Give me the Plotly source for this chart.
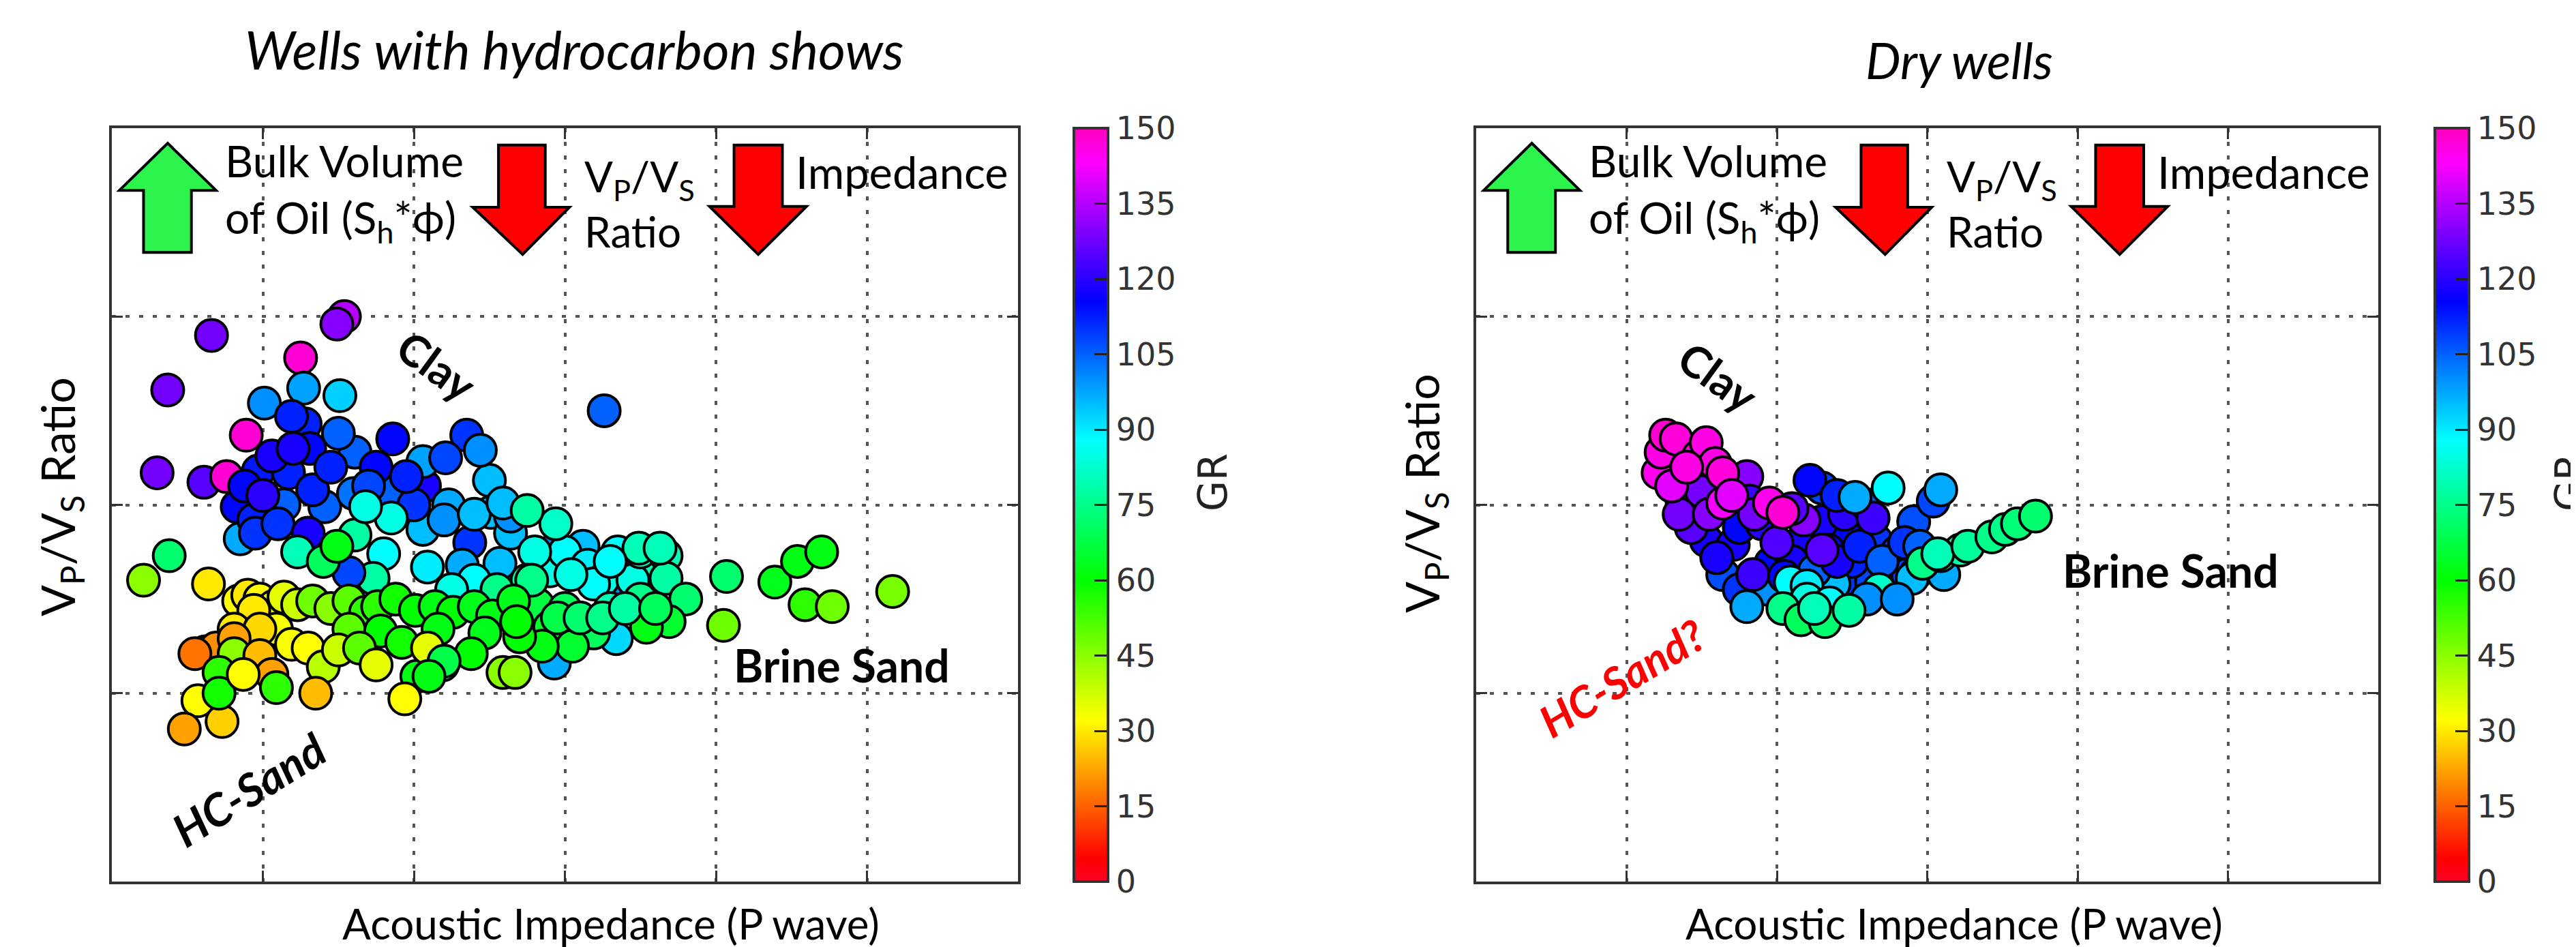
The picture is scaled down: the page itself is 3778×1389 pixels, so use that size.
import plotly.graph_objects as go

# ---------------- data ----------------
# Left panel: wells with hydrocarbon shows (x = acoustic impedance grid units, y = Vp/Vs grid units, GR)
hc_x = [0.66, 1.54, 1.49, 0.37, 1.25, 0.30, 0.61, 0.89, 0.76,
        1.01, 1.27, 1.51, 1.28, 2.35, 1.86, 1.61, 1.31, 0.97, 1.17, 1.14, 1.41, 1.60, 1.83,
        2.07, 2.06, 2.21, 2.50, 0.85, 0.83, 2.06, 2.37, 2.32, 2.57, 2.51, 2.64, 2.23,
        0.94, 1.06, 0.88, 1.50, 2.44, 1.75, 1.33, 1.19, 1.00, 1.20, 1.45, 1.70, 0.95,
        2.20, 2.40, 2.00, 1.95, 1.10, 1.30, 3.26, 2.64, 2.91, 3.12, 3.41, 2.59, 2.93, 3.34,
        2.40, 2.25, 2.90, 3.00, 3.15, 3.25, 3.35, 3.55, 3.45,
        1.23, 1.61, 1.85, 2.09, 1.68, 1.80, 1.73, 1.57, 2.94, 2.75, 3.50, 3.67, 3.19, 3.04,
        3.67, 3.49, 3.63, 2.80, 3.30, 2.75, 2.55,
        1.40, 1.49, 0.38, 0.21, 0.64, 3.80, 3.69, 3.54, 3.19, 2.82, 2.90, 3.00, 3.30, 2.78,
        3.50, 3.05, 2.85, 2.95, 3.10, 3.25, 3.40, 3.60, 2.70,
        4.07, 4.39, 4.54, 4.70, 4.59, 4.77, 5.17, 4.05,
        0.84, 0.90, 0.98, 1.07, 1.14, 1.23, 1.33, 1.45, 1.57, 1.68, 1.76, 1.88, 2.01, 2.14,
        2.26, 2.40, 2.52, 2.66, 2.68, 0.94, 0.81, 1.09, 0.98, 1.57, 1.78, 2.16, 2.47,
        0.62, 0.69, 0.81, 0.55, 0.81, 0.71, 0.98, 1.06, 1.09, 1.19, 1.30, 1.40, 1.35, 1.50,
        1.64, 1.75, 1.92, 2.02, 1.94, 2.19, 2.09, 2.38, 2.59, 0.57, 0.48, 0.73, 0.71, 0.87,
        2.20, 2.10, 2.67]
hc_y = [2.90, 3.00, 2.96, 2.61, 2.78, 2.17, 2.12, 2.37, 2.15,
        2.54, 2.62, 2.58, 2.43, 2.37, 2.35, 2.28, 2.30, 2.18, 2.17, 2.00, 1.99, 2.06, 2.07,
        2.10, 2.23, 2.25, 2.13, 1.82, 1.99, 1.87, 1.80, 1.68, 1.69, 1.96, 1.85, 2.00,
        1.92, 2.26, 2.10, 2.38, 2.29, 2.20, 2.08, 2.47, 2.05, 2.30, 2.20, 2.10, 1.85,
        1.92, 1.95, 2.00, 2.15, 1.90, 1.85, 2.50, 1.94, 1.75, 1.78, 1.57, 2.01, 1.16, 1.29,
        1.60, 1.55, 1.65, 1.75, 1.68, 1.60, 1.75, 1.65, 1.60,
        1.75, 1.84, 1.93, 1.67, 1.99, 1.74, 1.61, 1.64, 1.90, 1.97, 1.75, 1.73, 1.58, 1.63,
        1.61, 1.77, 1.77, 1.75, 1.70, 1.60, 1.55,
        1.70, 1.78, 1.73, 1.60, 1.58, 1.50, 1.38, 1.35, 1.32, 1.47, 1.35, 1.45, 1.45, 1.60,
        1.50, 1.25, 1.25, 1.40, 1.40, 1.40, 1.45, 1.45, 1.30,
        1.62, 1.59, 1.70, 1.75, 1.47, 1.46, 1.54, 1.36,
        1.49, 1.52, 1.50, 1.46, 1.51, 1.47, 1.49, 1.45, 1.49, 1.43, 1.46, 1.50, 1.44, 1.46,
        1.43, 1.46, 1.41, 1.49, 1.38, 1.44, 1.34, 1.34, 1.34, 1.34, 1.33, 1.34, 1.32,
        1.22, 1.24, 1.29, 1.21, 1.21, 1.11, 1.20, 1.10, 1.03, 1.26, 1.24, 1.14, 1.00, 1.23,
        1.24, 1.15, 1.27, 1.09, 0.97, 1.15, 1.24, 1.21, 1.11, 0.96, 0.81, 0.85, 1.00, 1.10,
        1.17, 1.09, 1.11]
hc_gr = [128, 135, 130, 128, 148, 128, 125, 148, 148,
         100, 98, 93, 112, 110, 115, 105, 115, 113, 112, 105, 105, 103, 105,
         118, 98, 108, 95, 97, 115, 95, 110, 97, 95, 95, 95, 97,
         112, 118, 115, 105, 100, 115, 112, 112, 120, 118, 112, 108, 110,
         100, 95, 110, 112, 110, 118, 105, 100, 100, 95, 100, 95, 97, 92,
         88, 85, 85, 88, 90, 85, 88, 80, 85,
         80, 78, 85, 90, 85, 88, 78, 108, 82, 78, 82, 80, 88, 85,
         78, 80, 80, 85, 88, 78, 75,
         70, 62, 72, 45, 30, 72, 65, 62, 70, 67, 65, 70, 80, 75,
         75, 65, 62, 68, 72, 75, 78, 70, 60,
         72, 63, 62, 62, 55, 48, 47, 48,
         32, 30, 32, 33, 35, 38, 48, 45, 50, 55, 55, 58, 60, 62,
         60, 63, 62, 63, 60, 30, 30, 33, 28, 50, 60, 62, 63,
         18, 20, 22, 17, 45, 55, 25, 22, 55, 33, 32, 40, 25, 38,
         50, 35, 58, 62, 32, 75, 35, 60, 45, 32, 22, 27, 58, 32,
         68, 62, 45]

# Right panel: dry wells
dry_x = [2.30, 2.45, 2.91, 3.04, 2.22, 2.30, 2.14, 2.34, 2.66, 2.77, 2.48, 2.63, 1.53, 1.71,
         1.96, 1.75, 1.90, 2.10, 2.50, 2.80, 2.45, 2.87, 1.64, 2.38, 2.93,
         1.60, 1.75, 1.95, 2.05, 2.25, 2.40, 2.55, 2.70, 2.85, 2.95, 2.60, 2.40,
         1.80, 1.37, 1.50, 1.82, 2.18, 2.00, 1.84, 1.43, 2.30, 2.64, 1.35, 1.55, 1.85, 2.10,
         1.21, 1.23, 1.26, 1.33, 1.48, 1.53, 1.59, 1.64, 1.64, 1.95, 2.04, 1.30, 1.40, 1.70,
         2.52, 2.74, 3.09, 2.09, 2.20, 2.68, 2.90, 3.11, 1.80, 2.60, 2.20, 2.80, 2.35,
         2.04, 2.16, 2.32, 2.48, 2.25, 2.97, 3.09, 3.22, 3.07, 3.27, 3.43, 3.52, 3.60, 3.72]
dry_y = [2.09, 1.85, 1.91, 2.02, 2.13, 1.91, 1.79, 1.76, 1.81, 1.65, 1.61, 1.59, 1.81, 1.79,
         1.69, 1.88, 1.90, 1.70, 1.70, 1.75, 1.95, 1.63, 1.63, 1.58, 1.64,
         1.72, 1.55, 1.55, 1.62, 1.65, 1.70, 1.78, 1.70, 1.80, 1.78, 2.00, 2.05,
         2.15, 2.01, 2.07, 2.02, 1.92, 1.80, 1.63, 1.88, 1.76, 1.93, 1.95, 1.95, 1.95, 1.98,
         2.17, 2.28, 2.37, 2.35, 2.26, 2.33, 2.22, 2.17, 2.01, 2.01, 1.96, 2.10, 2.20, 2.05,
         2.04, 2.09, 2.08, 1.59, 1.57, 1.55, 1.61, 1.63, 1.46, 1.50, 1.50, 1.50, 1.48,
         1.45, 1.39, 1.38, 1.44, 1.45, 1.69, 1.73, 1.76, 1.74, 1.78, 1.83, 1.87, 1.90, 1.94]
dry_gr = [108, 115, 107, 108, 115, 118, 118, 115, 110, 105, 110, 108, 118, 118,
          115, 115, 120, 118, 112, 110, 120, 108, 107, 95, 100,
          118, 110, 100, 115, 105, 118, 112, 105, 110, 105, 105, 112,
          130, 130, 128, 122, 130, 124, 122, 125, 125, 122, 128, 130, 128, 125,
          145, 146, 148, 147, 147, 146, 146, 147, 142, 145, 148, 140, 146, 140,
          97, 88, 97, 88, 90, 82, 95, 97, 97, 100, 85, 100, 88,
          75, 70, 72, 78, 80, 75, 80, 78, 80, 77, 75, 75, 73, 72]

gr_ticks = [0, 15, 30, 45, 60, 75, 90, 105, 120, 135, 150]

# ---------------- styling ----------------
W, H = 3778, 1389
FONT = "Lato"
TICKFONT = "DejaVu Sans"

gist_rainbow = [[0.000, "rgb(255,0,41)"], [0.030, "rgb(255,0,0)"], [0.215, "rgb(255,255,0)"],
                [0.400, "rgb(0,255,0)"], [0.586, "rgb(0,255,255)"], [0.770, "rgb(0,0,255)"],
                [0.954, "rgb(255,0,255)"], [1.000, "rgb(255,0,191)"]]

def px(xp):
    return xp / W

def py(yp):
    return 1 - yp / H

left_dom = [px(156), px(1485)]
right_dom = [px(2157), px(3480)]
y_dom = [py(1285), py(180)]

fig = go.Figure()
marker_common = dict(size=47, line=dict(color="black", width=4), opacity=1)
fig.add_trace(go.Scatter(x=hc_x, y=hc_y, mode="markers", xaxis="x", yaxis="y",
                         marker=dict(color=hc_gr, coloraxis="coloraxis", **marker_common),
                         showlegend=False, hoverinfo="skip"))
fig.add_trace(go.Scatter(x=dry_x, y=dry_y, mode="markers", xaxis="x2", yaxis="y2",
                         marker=dict(color=dry_gr, coloraxis="coloraxis2", **marker_common),
                         showlegend=False, hoverinfo="skip"))

def axis(domain, anchor):
    return dict(domain=domain, anchor=anchor, range=[0, 6] if anchor.startswith("y") else [0, 4],
                showticklabels=False, ticks="inside", ticklen=16, tickwidth=3, tickcolor="#333",
                dtick=1, tick0=0, showline=True, linecolor="#333", linewidth=4, mirror="allticks",
                showgrid=True, gridcolor="#555", gridwidth=3.5, griddash="6px,14px",
                zeroline=False, fixedrange=True)

def cbar(x0):
    return dict(x=x0, xanchor="left", y=py(1285), yanchor="bottom", len=(1285 - 180) / H,
                lenmode="fraction", thickness=50, outlinewidth=4, outlinecolor="#333",
                xpad=0, ypad=0, tickvals=gr_ticks, ticks="inside", ticklen=22, tickwidth=2.5,
                tickcolor="#222", tickfont=dict(family=TICKFONT, size=46, color="#333"))

fig.update_layout(
    width=W, height=H, margin=dict(l=0, r=0, t=0, b=0), autosize=False,
    paper_bgcolor="white", plot_bgcolor="white",
    xaxis=axis(left_dom, "y"), yaxis=axis(y_dom, "x"),
    xaxis2=axis(right_dom, "y2"), yaxis2=axis(y_dom, "x2"),
    coloraxis=dict(colorscale=gist_rainbow, cmin=0, cmax=150, colorbar=cbar(px(1567))),
    coloraxis2=dict(colorscale=gist_rainbow, cmin=0, cmax=150, colorbar=cbar(px(3563))),
)

# ---------------- arrows (axis units) ----------------
def block_arrow(sx0, sx1, sb, hb, hx0, hx1, tx, ty):
    return (f"M {sx0},{sb} L {sx0},{hb} L {hx0},{hb} L {tx},{ty} L {hx1},{hb} "
            f"L {sx1},{hb} L {sx1},{sb} Z")

arrows = [
    (block_arrow(0.21, 0.527, 3.34, 3.67, 0.05, 0.69, 0.37, 3.92), "#2df44c"),
    (block_arrow(2.56, 2.87, 3.91, 3.58, 2.39, 3.03, 2.72, 3.33), "#ff0000"),
    (block_arrow(4.12, 4.44, 3.91, 3.585, 3.957, 4.60, 4.28, 3.33), "#ff0000"),
]
shapes = []
for xr, yr in [("x", "y"), ("x2", "y2")]:
    for path, col in arrows:
        shapes.append(dict(type="path", path=path, xref=xr, yref=yr, fillcolor=col,
                           line=dict(color="black", width=4), layer="above"))
fig.update_layout(shapes=shapes)

# ---------------- text ----------------
ann = []
def T(text, x, y, size, xref="paper", yref="paper", color="black", angle=0,
      xanchor="center", yanchor="middle", family=FONT, align="left"):
    ann.append(dict(text=text, x=x, y=y, xref=xref, yref=yref, showarrow=False,
                    font=dict(family=family, size=size, color=color), textangle=angle,
                    xanchor=xanchor, yanchor=yanchor, align=align))

# titles
T("<i>Wells with hydrocarbon shows</i>", px(834), py(64), 77)
T("<i>Dry wells</i>", px(2865), py(80), 73)

for xr, yr in [("x", "y"), ("x2", "y2")]:
    T("Bulk Volume<br>of Oil (S<sub>h</sub>*ϕ)", 0.74, 3.66, 64, xref=xr, yref=yr, xanchor="left")
    T("V<sub>P</sub>/V<sub>S</sub><br>Ratio", 3.12, 3.60, 62, xref=xr, yref=yr, xanchor="left")
    T("Impedance", 4.52, 3.77, 65, xref=xr, yref=yr, xanchor="left")

# region labels
T("<b>Clay</b>", 2.154, 2.74, 64, xref="x", yref="y", angle=36)
T("<b><i>HC-Sand</i></b>", 0.907, 0.49, 66, xref="x", yref="y", angle=-32)
T("<b>Brine Sand</b>", 4.835, 1.15, 66, xref="x", yref="y")
T("<b>Clay</b>", 1.61, 2.68, 64, xref="x2", yref="y2", angle=36)
T("<b><i>HC-Sand?</i></b>", 0.966, 1.08, 64, xref="x2", yref="y2", angle=-31, color="#ff0000")
T("<b>Brine Sand</b>", 4.617, 1.654, 66, xref="x2", yref="y2")

# axis titles
T("Acoustic Impedance (P wave)", px(888), py(1346), 62)
T("Acoustic Impedance (P wave)", px(2858), py(1346), 62)
T("V<sub>P</sub>/V<sub>S</sub> Ratio", px(80), py(721), 68, angle=-90)
T("V<sub>P</sub>/V<sub>S</sub> Ratio", px(2081), py(716), 68, angle=-90)

# colorbar titles
T("GR", px(1771), py(700), 58, angle=-90, family=TICKFONT, color="#222")
T("GR", px(3761), py(700), 58, angle=-90, family=TICKFONT, color="#222")

fig.update_layout(annotations=ann)
fig.write_html("out.html")
